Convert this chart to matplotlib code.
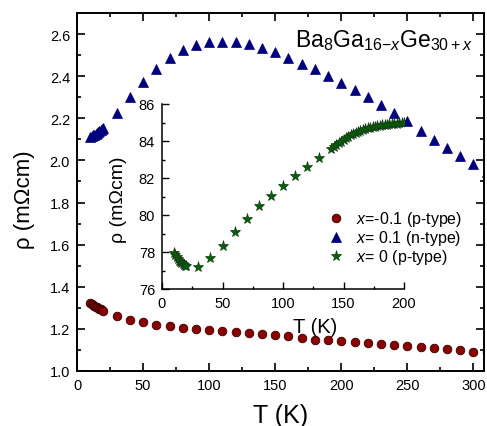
import matplotlib
matplotlib.use("Agg")
import matplotlib.pyplot as plt
from matplotlib.ticker import MultipleLocator

plt.rcParams['font.family'] = ['Liberation Sans', 'DejaVu Sans']
plt.rcParams['mathtext.fontset'] = 'custom'
plt.rcParams['mathtext.rm'] = 'Liberation Sans'
plt.rcParams['mathtext.it'] = 'Liberation Sans:italic'
plt.rcParams['mathtext.bf'] = 'Liberation Sans:bold'

# x = -0.1 (p-type), main axes
T_red = [10, 11, 12, 13, 14, 15, 16, 17, 18, 19, 20,
         30, 40, 50, 60, 70, 80, 90, 100, 110, 120, 130, 140, 150, 160,
         170, 180, 190, 200, 210, 220, 230, 240, 250, 260, 270, 280, 290, 300, 310]
rho_red = [1.322, 1.318, 1.314, 1.310, 1.306, 1.302, 1.299, 1.296, 1.293, 1.290, 1.287,
           1.262, 1.243, 1.231, 1.220, 1.212, 1.205, 1.199, 1.196, 1.190, 1.185, 1.180, 1.177, 1.171, 1.164,
           1.155, 1.146, 1.149, 1.144, 1.139, 1.131, 1.127, 1.123, 1.117, 1.114, 1.107, 1.103, 1.098, 1.092, 1.088]

# x = 0.1 (n-type), main axes
T_blue = [10, 11, 12, 13, 14, 15, 16, 17, 18, 19, 20,
          30, 40, 50, 60, 70, 80, 90, 100, 110, 120, 130, 140, 150, 160,
          170, 180, 190, 200, 210, 220, 230, 240, 250, 260, 270, 280, 290, 300, 310]
rho_blue = [2.112, 2.115, 2.119, 2.123, 2.127, 2.131, 2.135, 2.139, 2.143, 2.147, 2.152,
            2.224, 2.300, 2.371, 2.436, 2.487, 2.523, 2.546, 2.560, 2.562, 2.560, 2.553, 2.534, 2.515, 2.487,
            2.458, 2.434, 2.403, 2.368, 2.336, 2.302, 2.264, 2.224, 2.185, 2.142, 2.098, 2.057, 2.022, 1.984, 1.945]

# x = 0 (p-type), inset
T_green = [10, 11, 12, 13, 14, 15, 16, 17, 18, 19, 20,
           30, 40, 50, 60, 70, 80, 90, 100, 110, 120, 130,
           140, 142, 144, 146, 148, 150, 152, 154, 156, 158, 160, 162, 164, 166, 168,
           170, 172, 174, 176, 178, 180, 182, 184, 186, 188, 190, 192, 194, 196, 198, 200]
rho_green = [77.95, 77.85, 77.72, 77.62, 77.54, 77.46, 77.40, 77.35, 77.30, 77.27, 77.25,
             77.20, 77.66, 78.32, 79.06, 79.76, 80.49, 81.03, 81.59, 82.09, 82.58, 83.06,
             83.55, 83.67, 83.78, 83.88, 83.97, 84.06, 84.15, 84.23, 84.30, 84.37, 84.44, 84.50, 84.55, 84.60, 84.64,
             84.68, 84.71, 84.74, 84.76, 84.79, 84.82, 84.84, 84.86, 84.88, 84.90, 84.92, 84.93, 84.94, 84.95, 84.96, 84.97]

labels = ['$x$=-0.1 (p-type)', '$x$= 0.1 (n-type)', '$x$= 0 (p-type)']

fig = plt.figure(figsize=(4.87, 4.27), dpi=100)
ax = fig.add_axes([77/487, 1 - 372/427, 407/487, 358/427])

red_c = '#8b0000'
blue_c = '#00007f'
green_c = '#006400'

h_red, = ax.plot(T_red, rho_red, 'o', ms=6.2, mfc=red_c, mec='#3a0000', mew=0.6, linestyle='none')
h_blue, = ax.plot(T_blue, rho_blue, '^', ms=6.5, mfc=blue_c, mec=blue_c, mew=0.5, linestyle='none')

ax.set_xlim(0, 308)
ax.set_ylim(1.0, 2.7)
ax.xaxis.set_major_locator(MultipleLocator(50))
ax.xaxis.set_minor_locator(MultipleLocator(25))
ax.yaxis.set_major_locator(MultipleLocator(0.2))
ax.yaxis.set_minor_locator(MultipleLocator(0.1))
ax.yaxis.set_major_formatter(matplotlib.ticker.FormatStrFormatter('%.1f'))
ax.tick_params(which='both', direction='in', top=True, right=True, labelsize=10.5, width=1.2)
ax.tick_params(which='major', length=5.5, pad=5)
ax.tick_params(which='minor', length=3)
for s in ax.spines.values():
    s.set_linewidth(1.4)
ax.set_xlabel('T (K)', fontsize=18)
ax.set_ylabel('ρ (mΩcm)', fontsize=16)
ax.xaxis.set_label_coords(0.5, -0.09)
ax.yaxis.set_label_coords(-0.103, 0.48)

fig.text(295/487, 1 - 47/427, 'Ba$_{8}$Ga$_{16\\mathrm{-}x}$Ge$_{30+x}$', fontsize=16.5,
         ha='left', va='baseline')

# inset
axi = fig.add_axes([162/487, 1 - 290/427, 242/487, 185/427])
axi.patch.set_alpha(0)
h_green, = axi.plot(T_green, rho_green, '*', ms=8, mfc=green_c, mec='#1a3a1a', mew=0.5, linestyle='none')
axi.set_xlim(0, 200)
axi.set_ylim(76, 86)
axi.xaxis.set_major_locator(MultipleLocator(50))
axi.xaxis.set_minor_locator(MultipleLocator(25))
axi.yaxis.set_major_locator(MultipleLocator(2))
axi.yaxis.set_minor_locator(MultipleLocator(1))
axi.spines['top'].set_visible(False)
axi.spines['right'].set_visible(False)
for s in ['left', 'bottom']:
    axi.spines[s].set_linewidth(1.1)
axi.tick_params(which='both', direction='in', labelsize=10.5, width=1.0)
axi.tick_params(which='major', length=5, pad=5)
axi.tick_params(which='minor', length=2.5)
axi.set_xlabel('T (K)', fontsize=14.5)
axi.set_ylabel('ρ (mΩcm)', fontsize=14)
axi.xaxis.set_label_coords(0.632, -0.15)
axi.yaxis.set_label_coords(-0.145, 0.49)

fig.legend([h_red, h_blue, h_green], labels, loc='upper left',
           bbox_to_anchor=(318/487, 1 - 204/427), frameon=False, fontsize=11.5,
           handletextpad=0.6, labelspacing=0.0, borderaxespad=0, handlelength=1.4)

fig.savefig('out.png', dpi=100)
